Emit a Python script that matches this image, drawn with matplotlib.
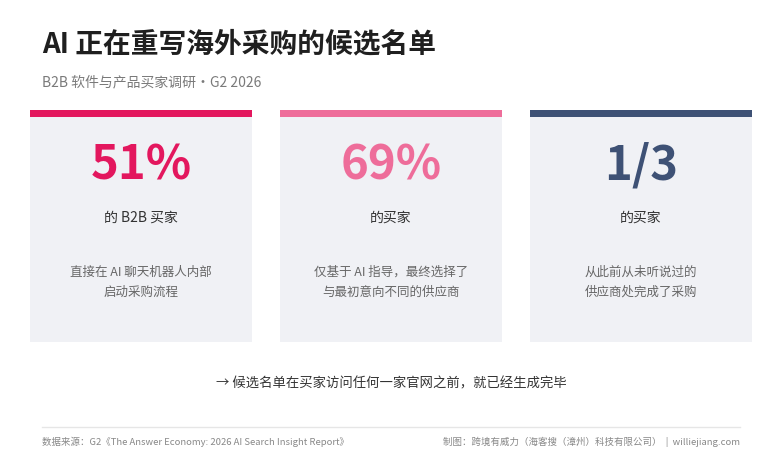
import matplotlib
matplotlib.use("Agg")
import matplotlib.pyplot as plt
from matplotlib.patches import Rectangle

plt.rcParams["font.family"] = ["Noto Sans CJK SC", "DejaVu Sans"]

# data
stat_values = ["51%", "69%", "1/3"]
stat_subjects = ["的 B2B 买家", "的买家", "的买家"]
stat_details = [
    "直接在 AI 聊天机器人内部\n启动采购流程",
    "仅基于 AI 指导，最终选择了\n与最初意向不同的供应商",
    "从此前从未听说过的\n供应商处完成了采购",
]
accent_colors = ["#E3175E", "#EE6D9A", "#3E5175"]

title = "AI 正在重写海外采购的候选名单"
subtitle = "B2B 软件与产品买家调研·G2 2026"
takeaway = "→ 候选名单在买家访问任何一家官网之前，就已经生成完毕"
source = "数据来源：G2《The Answer Economy: 2026 AI Search Insight Report》"
credit = "制图：跨境有威力（海客搜（漳州）科技有限公司）  |  williejiang.com"

W, H = 782, 469
fig = plt.figure(figsize=(W / 100, H / 100), dpi=100)
ax = fig.add_axes([0, 0, 1, 1])
ax.set_xlim(0, W)
ax.set_ylim(H, 0)
ax.axis("off")

ax.text(42, 44, title, fontsize=20, fontweight="bold", color="#1F1F1F", va="center")
ax.text(42, 82, subtitle, fontsize=10, color="#7A7A7A", va="center")

card_w, card_top, card_bot = 222, 110, 342
for i, (val, subj, det, col) in enumerate(zip(stat_values, stat_subjects, stat_details, accent_colors)):
    x0 = 30 + i * 250
    ax.add_patch(Rectangle((x0, card_top), card_w, card_bot - card_top, color="#F0F1F5", lw=0))
    ax.add_patch(Rectangle((x0, card_top), card_w, 7, color=col, lw=0))
    cx = x0 + card_w / 2
    ax.text(cx, 165, val, fontsize=34, fontweight="bold", color=col, ha="center", va="center")
    ax.text(cx, 218, subj, fontsize=10, color="#333333", ha="center", va="center")
    ax.text(cx, 282, det, fontsize=9, color="#666666", ha="center", va="center", linespacing=1.7)

ax.text(W / 2, 383, takeaway, fontsize=9.6, color="#333333", ha="center", va="center")
ax.plot([42, 740], [427, 427], color="#E6E6E6", lw=1)
ax.text(42, 442, source, fontsize=6.8, color="#888888", va="center")
ax.text(740, 442, credit, fontsize=6.8, color="#888888", va="center", ha="right")

fig.savefig("out.png", dpi=100, facecolor="white")
